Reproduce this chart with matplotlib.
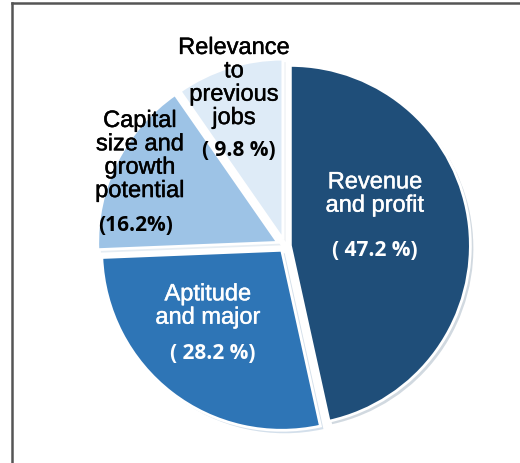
import matplotlib
matplotlib.use("Agg")
import matplotlib.pyplot as plt
from matplotlib.lines import Line2D
import matplotlib.patheffects as pe

# ---- data ----
categories = ["Revenue\nand profit", "Aptitude\nand major",
              "Capital\nsize and\ngrowth\npotential", "Relevance\nto\nprevious\njobs"]
values = [47.2, 28.2, 16.2, 9.8]
pct_labels = ["( 47.2 %)", "( 28.2 %)", "(16.2%)", "( 9.8 %)"]

# ---- styles ----
colors = ["#1F4E79", "#2E75B6", "#9DC3E6", "#DEEBF7"]
text_colors = ["white", "white", "black", "black"]
explode = [0.03, 0.03, 0.045, 0.04]

W, H = 520, 464
fig = plt.figure(figsize=(W / 100, H / 100), dpi=100)
fig.patch.set_facecolor("white")

cx, cy, r = 285, 247, 180  # pixel center / radius
ax = fig.add_axes([(cx - r) / W, (H - cy - r) / H, 2 * r / W, 2 * r / H])
wedges, _ = ax.pie(values, colors=colors, startangle=90, counterclock=False,
                   explode=explode, radius=1.0,
                   wedgeprops=dict(edgecolor="white", linewidth=2.0),
                   shadow=dict(ox=0.012, oy=-0.012, shade=0.15, alpha=0.2,
                               edgecolor="none"))
ax.set_xlim(-1, 1)
ax.set_ylim(-1, 1)
ax.set_aspect("equal")
ax.axis("off")
for w in wedges:
    w.set_clip_on(False)

def px(x, y):
    return (x - cx) / r, (cy - y) / r

name_pos = [(375, 195), (208, 307), (140, 157), (234, 84)]
pct_pos = [(375, 251), (213, 354), (136, 226), (239, 151)]

for i in range(len(values)):
    tc = text_colors[i]
    ax.text(*px(*name_pos[i]), categories[i], ha="center", va="center",
            fontsize=17, color=tc, family="Liberation Sans",
            linespacing=1.08,
            path_effects=[pe.withStroke(linewidth=0.3, foreground=tc)])
    ax.text(*px(*pct_pos[i]), pct_labels[i], ha="center", va="center",
            fontsize=15, color=tc, family="Open Sans",
            fontweight="bold")

# frame lines (top and left)
fig.add_artist(Line2D([12 / W, 1], [1 - 4 / H, 1 - 4 / H], color="#555555", lw=1.8))
fig.add_artist(Line2D([12 / W, 12 / W], [0, 1 - 4 / H], color="#555555", lw=1.8))

fig.savefig("out.png", dpi=100, facecolor="white")
